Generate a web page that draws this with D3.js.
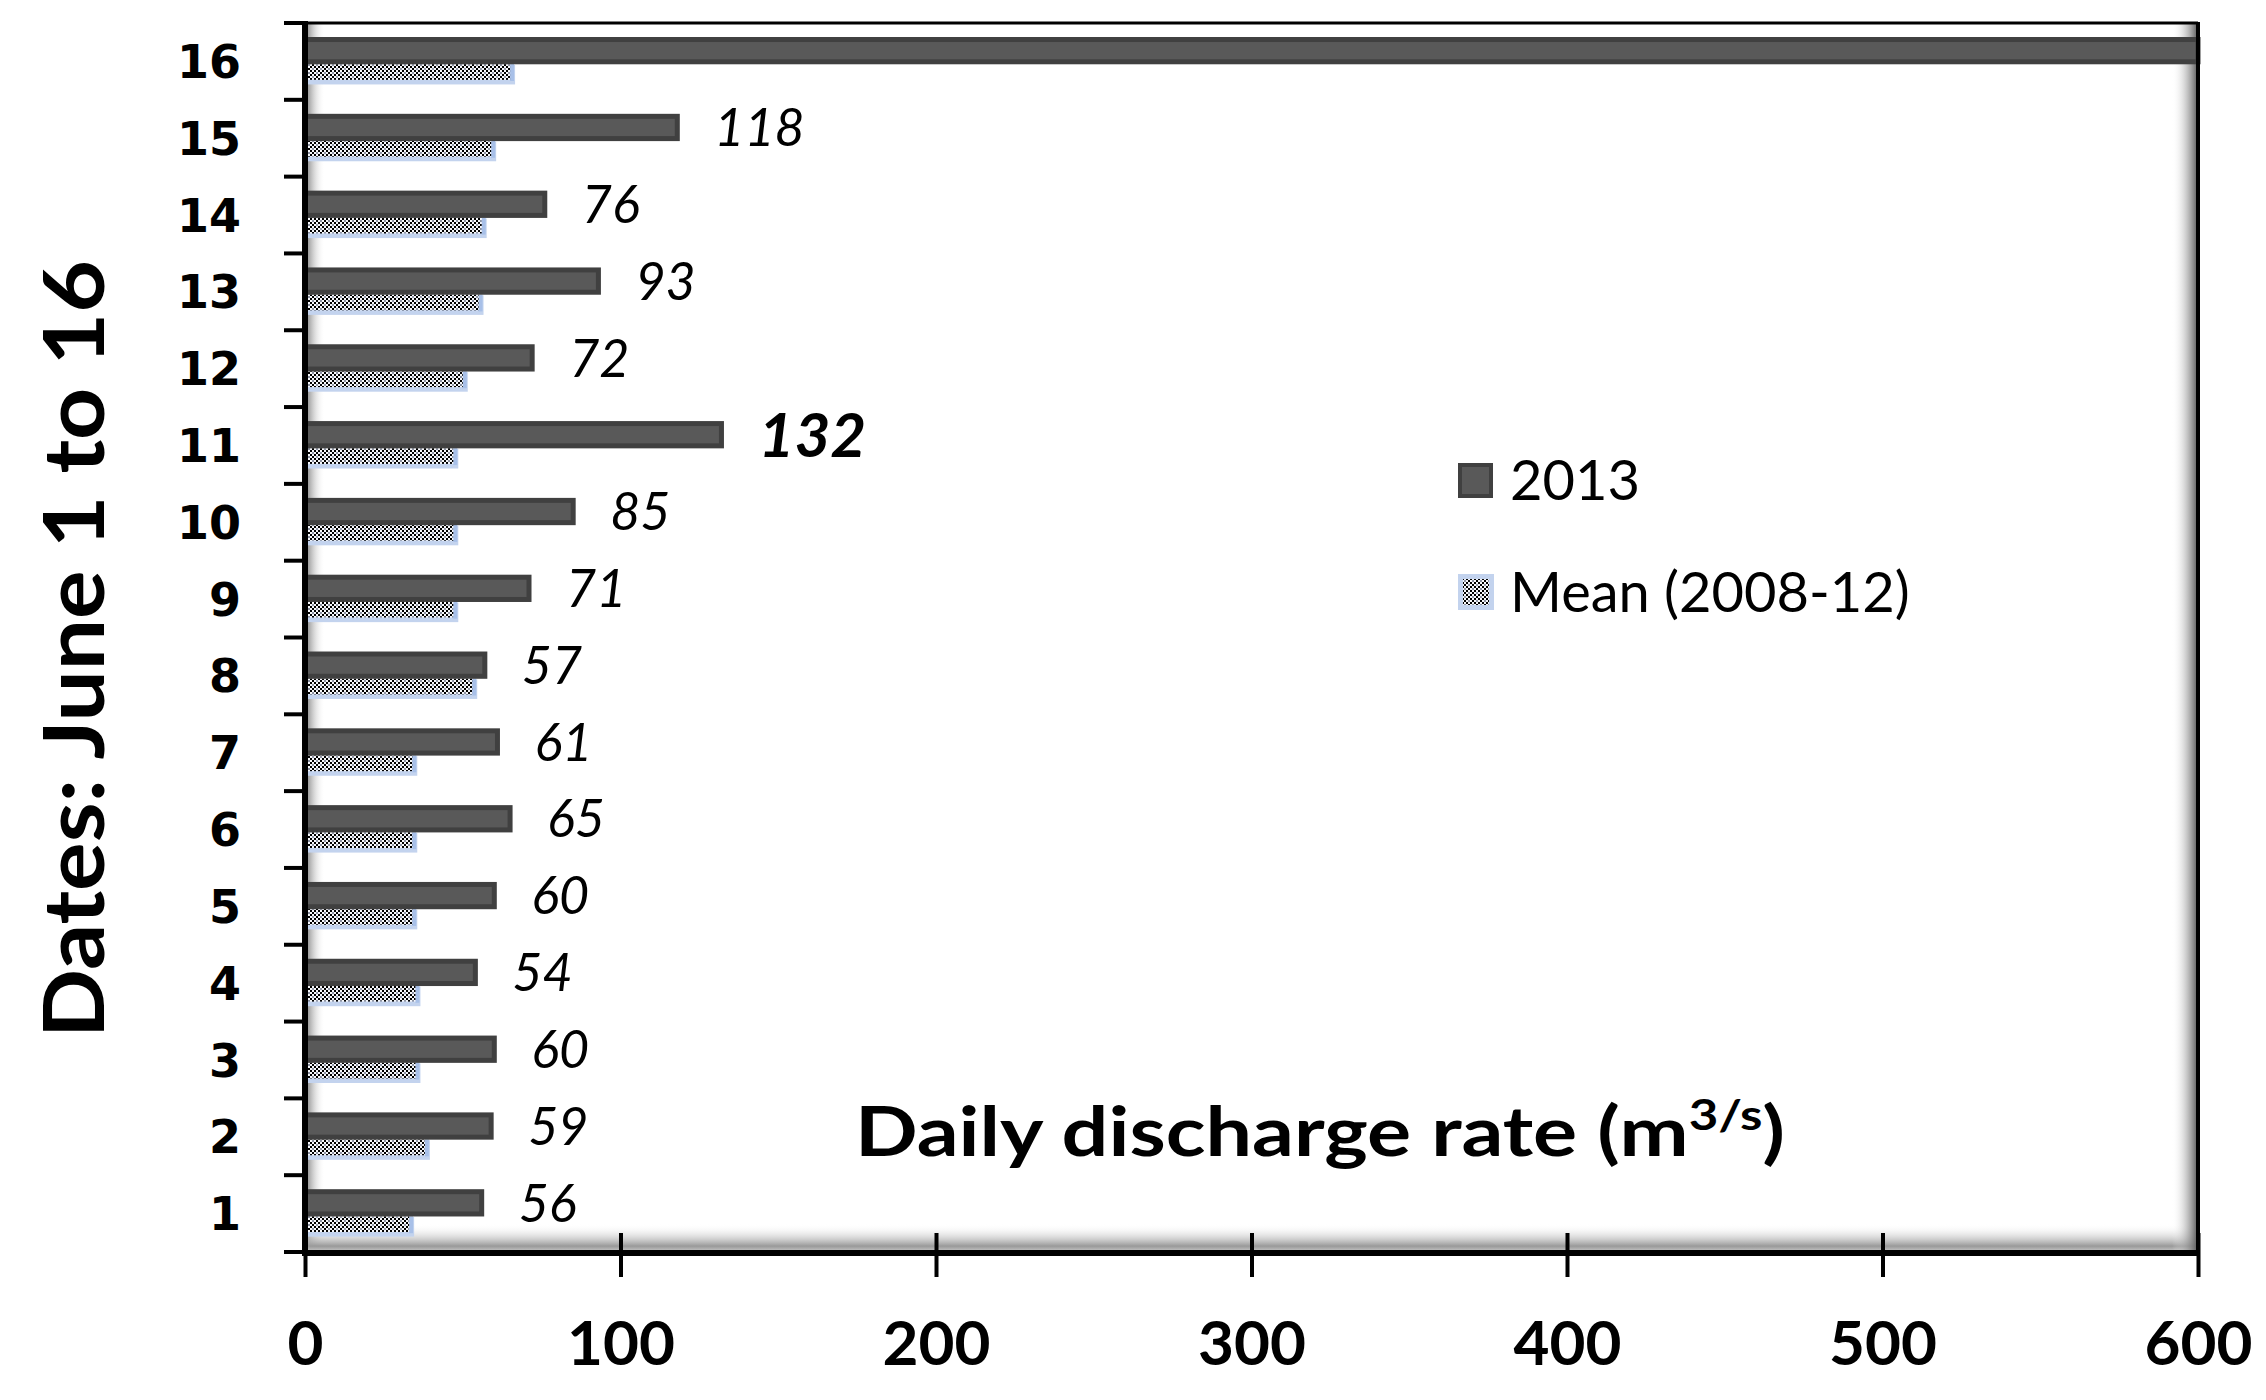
<!DOCTYPE html>
<html>
<head>
<meta charset="utf-8">
<script src="https://cdn.jsdelivr.net/npm/d3@7"></script>
<style>
  html, body { margin: 0; padding: 0; background: #ffffff; }
  svg { display: block; }
</style>
</head>
<body>
<div id="chart"></div>
<script>
// ---------------- data ----------------
const days = ["1","2","3","4","5","6","7","8","9","10","11","12","13","14","15","16"];
const discharge2013 = [56, 59, 60, 54, 60, 65, 61, 57, 71, 85, 132, 72, 93, 76, 118, 600];
const labels2013 = ["56","59","60","54","60","65","61","57","71","85","132","72","93","76","118",""];
const boldLabel = ["132"];
const meanDischarge = [33, 38, 35, 35, 34, 34, 34, 53, 47, 47, 47, 50, 55, 56, 59, 65];
const xTickValues = [0, 100, 200, 300, 400, 500, 600];
const seriesNames = ["2013", "Mean (2008-12)"];
const yTitle = "Dates: June 1 to 16";

// ---------------- layout ----------------
const W = 2266, H = 1400;
const pLeft = 305, pRight = 2198, pTop = 23, pBottom = 1252;

const svg = d3.select("#chart").append("svg")
  .attr("width", W).attr("height", H)
  .attr("viewBox", `0 0 ${W} ${H}`);

svg.append("rect").attr("width", W).attr("height", H).attr("fill", "#ffffff");

const defs = svg.append("defs");

// checker pattern for mean bars
const pat = defs.append("pattern").attr("id", "checker")
  .attr("patternUnits", "userSpaceOnUse").attr("width", 8).attr("height", 8);
pat.append("rect").attr("width", 8).attr("height", 8).attr("fill", "#f7f8fb");
[[0,0],[2,2],[4,4],[6,6],[6,2],[2,6]].forEach(([a,b]) => {
  pat.append("rect").attr("x", a).attr("y", b).attr("width", 2).attr("height", 2).attr("fill", "#000");
});
[[4,0],[0,4]].forEach(([a,b]) => {
  pat.append("rect").attr("x", a).attr("y", b).attr("width", 2).attr("height", 2).attr("fill", "#8a90a0");
});

// inner shadow gradients
const gl = defs.append("linearGradient").attr("id", "gLeft").attr("x1", 0).attr("x2", 1).attr("y1", 0).attr("y2", 0);
gl.append("stop").attr("offset", "0%").attr("stop-color", "#777");
gl.append("stop").attr("offset", "100%").attr("stop-color", "#fff").attr("stop-opacity", 0);
const gb = defs.append("linearGradient").attr("id", "gBottom").attr("x1", 0).attr("x2", 0).attr("y1", 0).attr("y2", 1);
gb.append("stop").attr("offset", "0%").attr("stop-color", "#fff").attr("stop-opacity", 0);
gb.append("stop").attr("offset", "85%").attr("stop-color", "#999");
gb.append("stop").attr("offset", "100%").attr("stop-color", "#bbb");
const gr = defs.append("linearGradient").attr("id", "gRight").attr("x1", 0).attr("x2", 1).attr("y1", 0).attr("y2", 0);
gr.append("stop").attr("offset", "0%").attr("stop-color", "#fff").attr("stop-opacity", 0);
gr.append("stop").attr("offset", "100%").attr("stop-color", "#555");

// ---------------- scales ----------------
const x = d3.scaleLinear().domain([0, 600]).range([pLeft, pRight]).clamp(true);
const y = d3.scaleBand().domain(days.slice().reverse()).range([pTop, pBottom]).padding(0);
const bw = y.bandwidth();

// plot-area shading
svg.append("rect").attr("x", pLeft).attr("y", pTop).attr("width", 20).attr("height", pBottom - pTop).attr("fill", "url(#gLeft)");
svg.append("rect").attr("x", pLeft).attr("y", pBottom - 28).attr("width", pRight - pLeft).attr("height", 26).attr("fill", "url(#gBottom)");
svg.append("rect").attr("x", pRight - 26).attr("y", pTop).attr("width", 26).attr("height", pBottom - pTop).attr("fill", "url(#gRight)");

// ---------------- bars ----------------
const rows = days.map((d, i) => ({ day: d, v2013: discharge2013[i], vMean: meanDischarge[i], label: labels2013[i] }));

const gBars = svg.append("g");

// mean bars: blue shadow + checker fill
gBars.selectAll("rect.meanShadow").data(rows).join("rect")
  .attr("class", "meanShadow")
  .attr("x", x(0))
  .attr("y", d => y(d.day) + bw * 0.545)
  .attr("width", d => x(d.vMean) - x(0) + 5)
  .attr("height", bw * 0.255)
  .attr("fill", "#c3d3ee");
gBars.selectAll("rect.meanShadow2").data(rows).join("rect")
  .attr("class", "meanShadow2")
  .attr("x", d => x(d.vMean))
  .attr("y", d => y(d.day) + bw * 0.535)
  .attr("width", 4)
  .attr("height", bw * 0.22)
  .attr("fill", "#a8c0e8");
gBars.selectAll("rect.mean").data(rows).join("rect")
  .attr("class", "mean")
  .attr("x", x(0))
  .attr("y", d => y(d.day) + bw * 0.535)
  .attr("width", d => x(d.vMean) - x(0))
  .attr("height", bw * 0.205)
  .attr("fill", "url(#checker)");

// 2013 bars
gBars.selectAll("rect.b2013").data(rows).join("rect")
  .attr("class", "b2013")
  .attr("x", x(0))
  .attr("y", d => y(d.day) + bw * 0.215)
  .attr("width", d => x(d.v2013) - x(0))
  .attr("height", bw * 0.29)
  .attr("fill", "#595959")
  .attr("stroke", "#404040")
  .attr("stroke-width", 5);

// data labels
svg.append("g").selectAll("text").data(rows.filter(d => d.label !== "")).join("text")
  .attr("x", d => x(d.v2013) + 37)
  .attr("y", d => y(d.day) + bw * 0.36)
  .attr("dy", "0.36em")
  .attr("font-family", "Lato, 'Open Sans', sans-serif")
  .attr("font-style", "italic")
  .attr("font-weight", d => boldLabel.includes(d.label) ? 700 : 400)
  .attr("font-size", d => boldLabel.includes(d.label) ? 62 : 52)
  .attr("fill", "#000")
  .text(d => d.label);

// ---------------- frame ----------------
svg.append("line").attr("x1", pLeft).attr("x2", pRight).attr("y1", pTop).attr("y2", pTop)
  .attr("stroke", "#000").attr("stroke-width", 3);
svg.append("line").attr("x1", pRight).attr("x2", pRight).attr("y1", pTop - 1).attr("y2", pBottom)
  .attr("stroke", "#000").attr("stroke-width", 4);

// ---------------- x axis ----------------
const xAxis = svg.append("g").attr("transform", `translate(0,${pBottom + 1})`)
  .call(d3.axisBottom(x).tickValues(xTickValues).tickFormat(d3.format("d")).tickSize(24).tickPadding(44));
xAxis.select(".domain").remove();
xAxis.selectAll(".tick line")
  .attr("y1", d => d === 0 ? 0 : -20)
  .attr("stroke", "#000").attr("stroke-width", 4);
xAxis.selectAll(".tick text")
  .attr("font-family", "Lato, sans-serif")
  .attr("font-weight", 700)
  .attr("font-size", 62)
  .attr("fill", "#000");
svg.append("line").attr("x1", pLeft - 2).attr("x2", pRight + 2).attr("y1", pBottom + 1).attr("y2", pBottom + 1)
  .attr("stroke", "#000").attr("stroke-width", 6);

// ---------------- y axis ----------------
const yAxis = svg.append("g").attr("transform", `translate(${pLeft},0)`)
  .call(d3.axisLeft(y).tickSize(0).tickPadding(64));
yAxis.select(".domain").remove();
yAxis.selectAll(".tick text")
  .attr("font-family", "'DejaVu Sans', sans-serif")
  .attr("font-weight", 700)
  .attr("font-size", 46)
  .attr("dy", "0.36em")
  .attr("fill", "#000");
const boundaries = days.map(d => y(d)).concat([y(days[0]) + bw]);
svg.append("g").selectAll("line").data(boundaries).join("line")
  .attr("x1", pLeft - 21).attr("x2", pLeft)
  .attr("y1", d => d).attr("y2", d => d)
  .attr("stroke", "#000").attr("stroke-width", 4);
svg.append("line").attr("x1", pLeft).attr("x2", pLeft).attr("y1", pTop - 2).attr("y2", pBottom + 4)
  .attr("stroke", "#000").attr("stroke-width", 6);

// ---------------- titles ----------------
svg.append("text")
  .attr("transform", `translate(104,${(260 + 1038) / 2}) rotate(-90)`)
  .attr("text-anchor", "middle")
  .attr("font-family", "Lato, sans-serif")
  .attr("font-weight", 700)
  .attr("font-size", 84)
  .attr("textLength", 778)
  .attr("lengthAdjust", "spacingAndGlyphs")
  .attr("fill", "#000")
  .text(yTitle);

const xt = svg.append("text")
  .attr("x", 855).attr("y", 1156)
  .attr("font-family", "Lato, sans-serif")
  .attr("font-weight", 700)
  .attr("font-size", 68)
  .attr("textLength", 930)
  .attr("lengthAdjust", "spacingAndGlyphs")
  .attr("fill", "#000");
xt.append("tspan").text("Daily discharge rate (m");
xt.append("tspan").attr("font-size", 42).attr("dy", -26).text("3/s");
xt.append("tspan").attr("dy", 26).text(")");

// ---------------- legend ----------------
const legend = svg.append("g");
legend.append("rect").attr("x", 1460).attr("y", 465).attr("width", 31).attr("height", 31)
  .attr("fill", "#595959").attr("stroke", "#404040").attr("stroke-width", 4);
legend.append("rect").attr("x", 1458).attr("y", 574).attr("width", 36).attr("height", 36)
  .attr("fill", "#c3d3ee");
legend.append("rect").attr("x", 1463).attr("y", 579).attr("width", 26).attr("height", 26)
  .attr("fill", "url(#checker)");
legend.selectAll("text").data(seriesNames).join("text")
  .attr("x", 1510)
  .attr("y", (d, i) => i === 0 ? 480 : 592)
  .attr("dy", "0.36em")
  .attr("font-family", "Lato, sans-serif")
  .attr("font-size", 56)
  .attr("fill", "#000")
  .text(d => d);
</script>
</body>
</html>
